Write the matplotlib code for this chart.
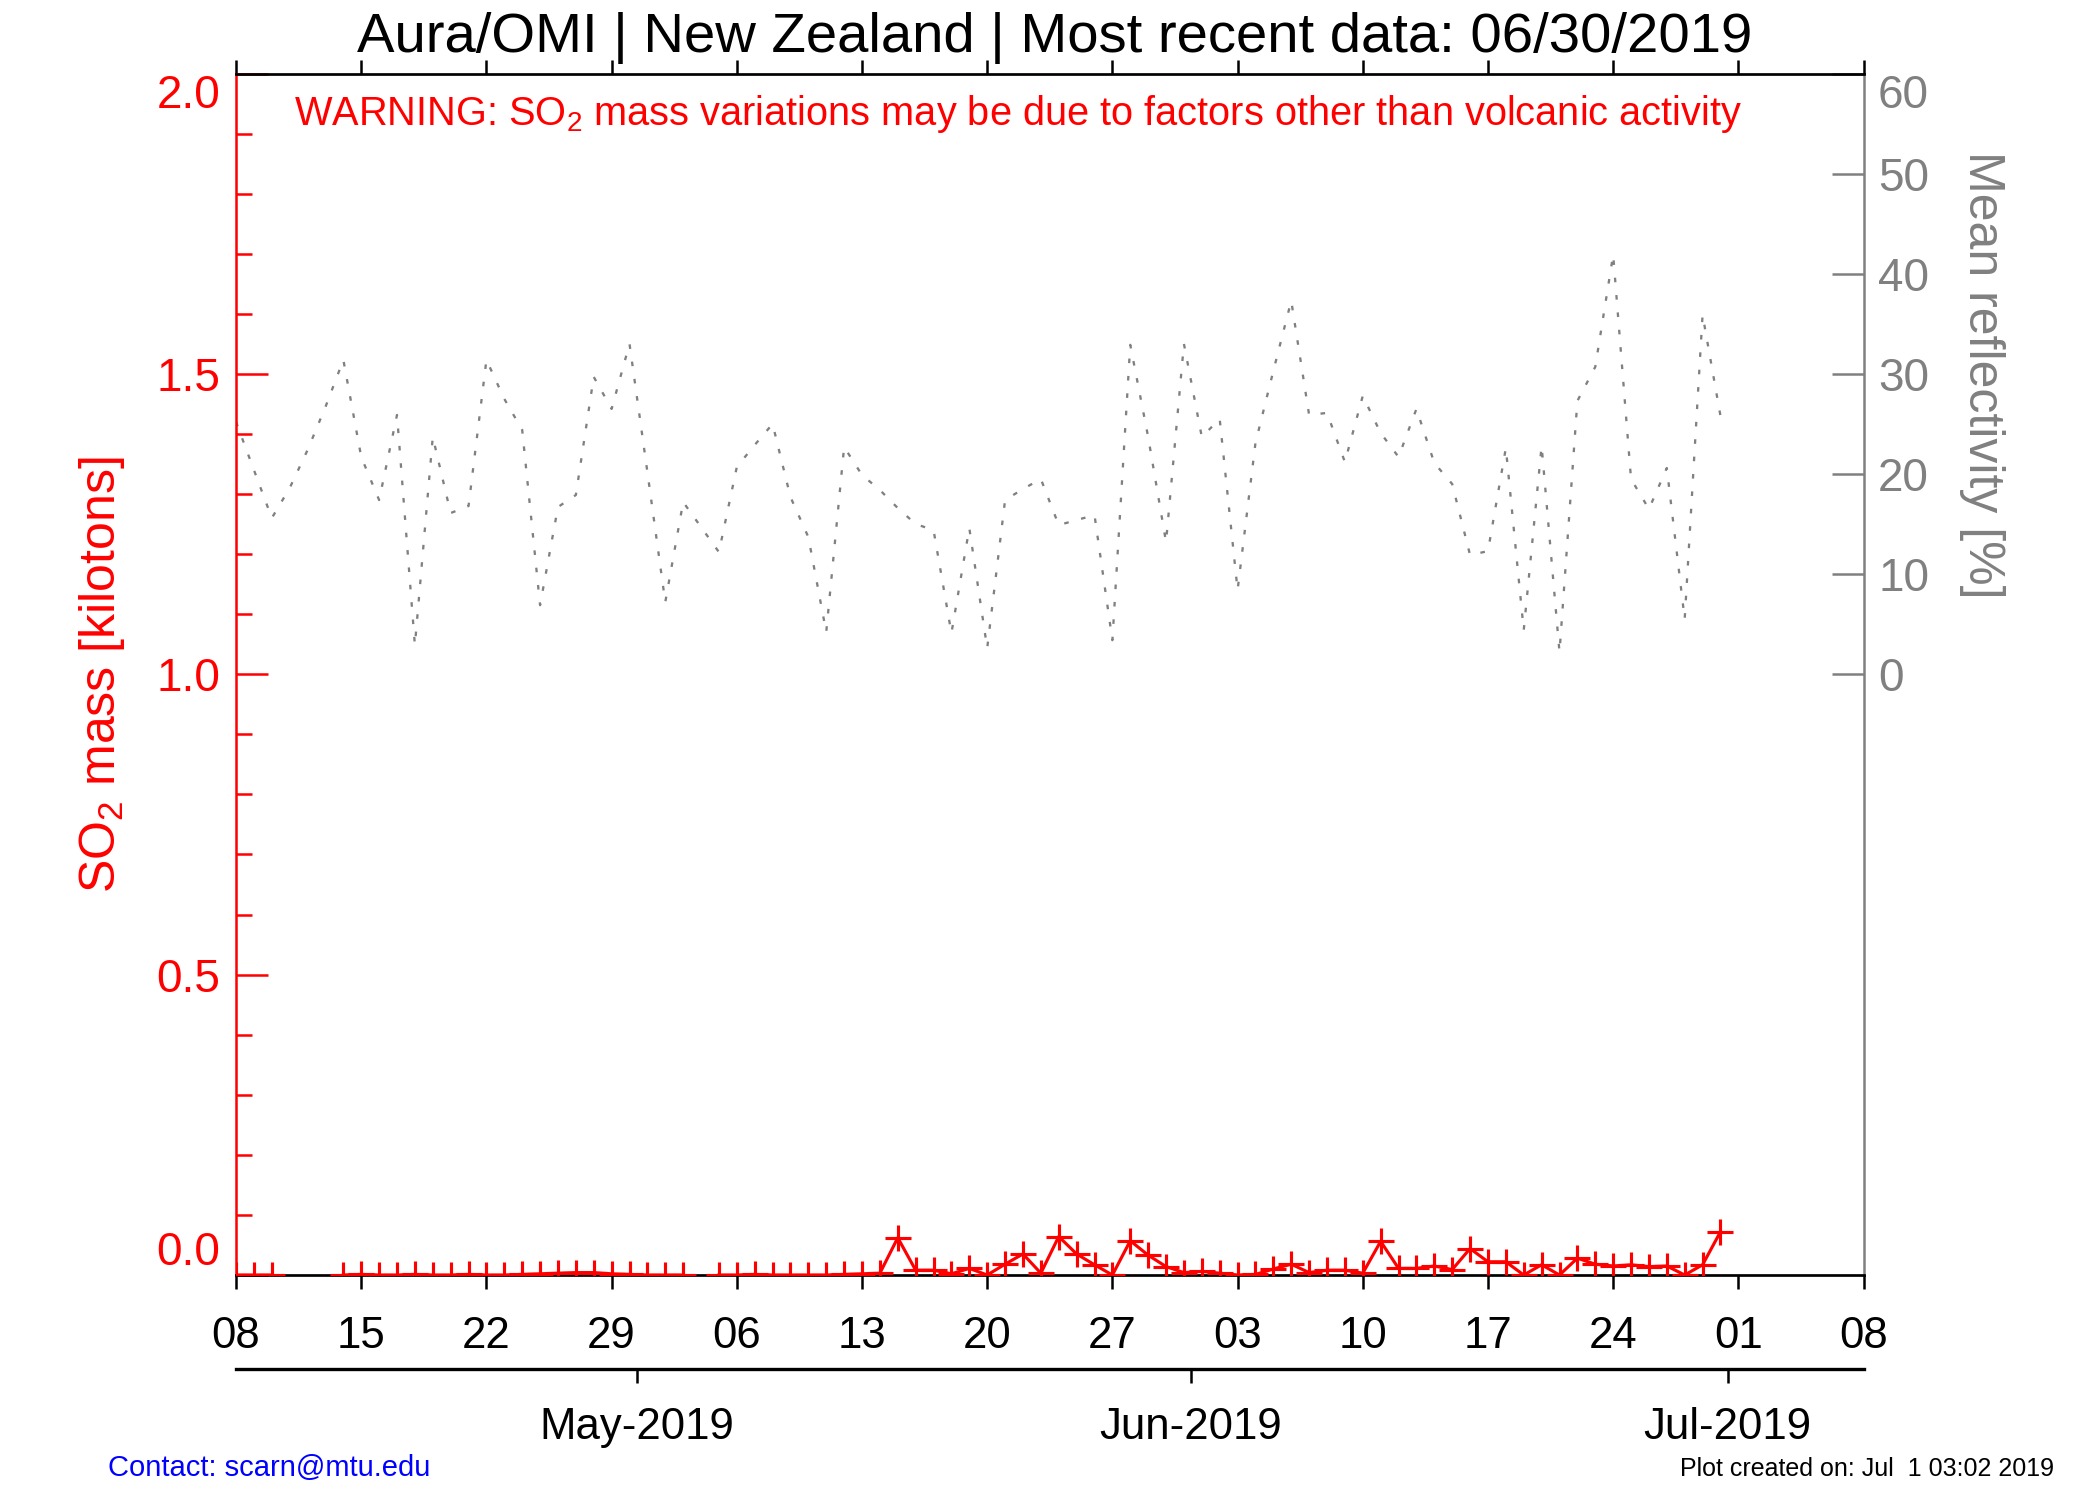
import numpy as np
import pandas as pd
import matplotlib
matplotlib.use("Agg")
import matplotlib.pyplot as plt
import matplotlib.dates as mdates
from matplotlib.ticker import FormatStrFormatter, FixedLocator

plt.rcParams['font.family'] = ['Liberation Sans', 'DejaVu Sans']
plt.rcParams['mathtext.default'] = 'regular'

# one value per day, 08 Apr 2019 .. 30 Jun 2019
first_day = "2019-04-08"
last_day = "2019-06-30"

# SO2 mass [kilotons], nan = no retrieval
so2_mass = [0.0, 0.0, 0.0, np.nan, np.nan, np.nan, 0.0, 0.001, 0.0, 0.0,
            0.001, 0.0, 0.0, 0.001, 0.0, 0.0, 0.001, 0.002, 0.003, 0.004,
            0.004, 0.002, 0.001, 0.0, 0.0, 0.0, np.nan, 0.0, 0.0, 0.001,
            0.0, 0.0, 0.0, 0.0, 0.001, 0.002, 0.003, 0.062, 0.008, 0.008,
            0.002, 0.011, 0.0, 0.018, 0.035, 0.003, 0.064, 0.035, 0.017, 0.0,
            0.057, 0.033, 0.014, 0.004, 0.006, 0.003, 0.0, 0.001, 0.010, 0.018,
            0.004, 0.008, 0.008, 0.003, 0.056, 0.011, 0.011, 0.015, 0.009, 0.044,
            0.022, 0.022, 0.0, 0.017, 0.0, 0.028, 0.018, 0.015, 0.017, 0.014,
            0.015, 0.0, 0.017, 0.072]

# mean reflectivity [%]
reflectivity = [25.2, 20.4, 15.6, 18.6, 22.4, 26.7, 31.4, 21.7, 17.4, 25.9,
                2.9, 23.7, 16.1, 16.8, 31.4, 27.5, 24.4, 6.9, 16.7, 17.9,
                29.7, 26.5, 33.0, 20.2, 7.2, 17.2, 14.7, 12.2, 20.7, 22.9,
                25.0, 17.7, 13.7, 4.2, 22.7, 19.9, 18.4, 16.6, 15.0, 14.4,
                4.1, 14.6, 2.6, 17.4, 18.5, 19.5, 14.9, 15.4, 15.9, 3.4,
                32.9, 23.7, 13.2, 33.0, 23.7, 25.5, 8.4, 23.1, 30.3, 37.3,
                25.9, 26.1, 21.2, 27.8, 24.1, 21.7, 26.5, 21.1, 19.0, 11.9,
                12.3, 22.6, 4.4, 22.8, 2.2, 27.3, 30.7, 41.9, 19.5, 16.5,
                20.6, 5.5, 35.9, 25.8]

mass_ticks = [0.0, 0.5, 1.0, 1.5, 2.0]
refl_ticks = [0, 10, 20, 30, 40, 50, 60]
month_starts = ["2019-05-01", "2019-06-01", "2019-07-01"]

title_txt = "Aura/OMI | New Zealand | Most recent data: 06/30/2019"
warn_txt = ("WARNING: SO$_2$ mass variations may be due to factors "
            "other than volcanic activity")
contact_txt = "Contact: scarn@mtu.edu"
created_txt = "Plot created on: Jul  1 03:02 2019"

days = pd.date_range(first_day, last_day, freq="D")

RED = '#ff0000'
GRAY = '#808080'

fig = plt.figure(figsize=(14, 10), dpi=150)
ax = fig.add_axes([0.1124, 0.15, 0.7750, 0.801])
ax2 = ax.twinx()

# reflectivity on the right axis, dotted grey
ax2.plot(days, reflectivity, color=GRAY, lw=1.1, ls=(0, (2, 5.6)))
# so2 mass on the left axis
ax.plot(days, so2_mass, color=RED, lw=1.5, marker='+', ms=12.5, mew=1.5,
        zorder=5)
ax.set_zorder(ax2.get_zorder() + 1)
ax.patch.set_visible(False)

ax.set_xlim(pd.Timestamp("2019-04-08"), pd.Timestamp("2019-07-08"))
ax.set_ylim(0, 2)
ax2.set_ylim(-60, 60)

# x axis: a tick every monday
ax.xaxis.set_major_locator(mdates.WeekdayLocator(byweekday=mdates.MO))
ax.xaxis.set_major_formatter(mdates.DateFormatter('%d'))
ax.tick_params(axis='x', which='major', direction='out', length=6.7,
               width=1.2, top=True, labelsize=21, pad=13)

# left axis
ax.set_yticks(mass_ticks)
ax.set_yticks(np.arange(0, 2.05, 0.1), minor=True)
ax.yaxis.set_major_formatter(FormatStrFormatter('%.1f'))
ax.tick_params(axis='y', which='major', direction='in', length=15.4,
               width=1.2, colors=RED, labelsize=22, pad=7.5)
ax.tick_params(axis='y', which='minor', direction='in', length=7.7,
               width=1.2, colors=RED)
ax.set_ylabel("SO$_2$ mass [kilotons]", color=RED, fontsize=24, labelpad=14)

# right axis
ax2.set_yticks(refl_ticks)
ax2.tick_params(axis='y', direction='in', length=15.4, width=1.2,
                colors=GRAY, labelsize=22, pad=7)

for s in ['top', 'bottom']:
    ax.spines[s].set_color('black')
    ax.spines[s].set_linewidth(1.3)
ax.spines['left'].set_color(RED)
ax.spines['left'].set_linewidth(1.2)
ax.spines['right'].set_visible(False)
for s in ['top', 'bottom', 'left']:
    ax2.spines[s].set_visible(False)
ax2.spines['right'].set_color(GRAY)
ax2.spines['right'].set_linewidth(1.2)

# keep end labels inside the axis box
mt = ax.yaxis.get_major_ticks()
mt[0].label1.set_va('bottom')
mt[-1].label1.set_va('top')
rt = ax2.yaxis.get_major_ticks()
rt[-1].label2.set_va('top')

# month axis under the day labels (ticks sit a bit before midnight, like IDL)
sec = ax.secondary_xaxis(-0.078)
month_locs = [mdates.date2num(pd.Timestamp(m)) - 0.6 for m in month_starts]
sec.xaxis.set_major_locator(FixedLocator(month_locs))
sec.tick_params(axis='x', direction='out', length=6.7, width=1.2,
                labelsize=21, pad=11.5)
sec.spines['bottom'].set_linewidth(1.6)
sec.set_xticklabels([pd.Timestamp(m).strftime('%b-%Y') for m in month_starts])

fig.text(0.502, 0.9655, title_txt, ha='center', va='baseline', fontsize=27)
fig.text(0.485, 0.9167, warn_txt, ha='center', va='baseline', fontsize=19.1,
         color=RED)
fig.text(0.944, 0.75, "Mean reflectivity [%]", rotation=270, ha='center',
         va='center', fontsize=24, color=GRAY)
fig.text(0.0514, 0.016, contact_txt, ha='left', va='baseline', fontsize=14,
         color='#0000ff')
fig.text(0.978, 0.016, created_txt, ha='right', va='baseline', fontsize=12)

fig.savefig("out.png", dpi=150)
